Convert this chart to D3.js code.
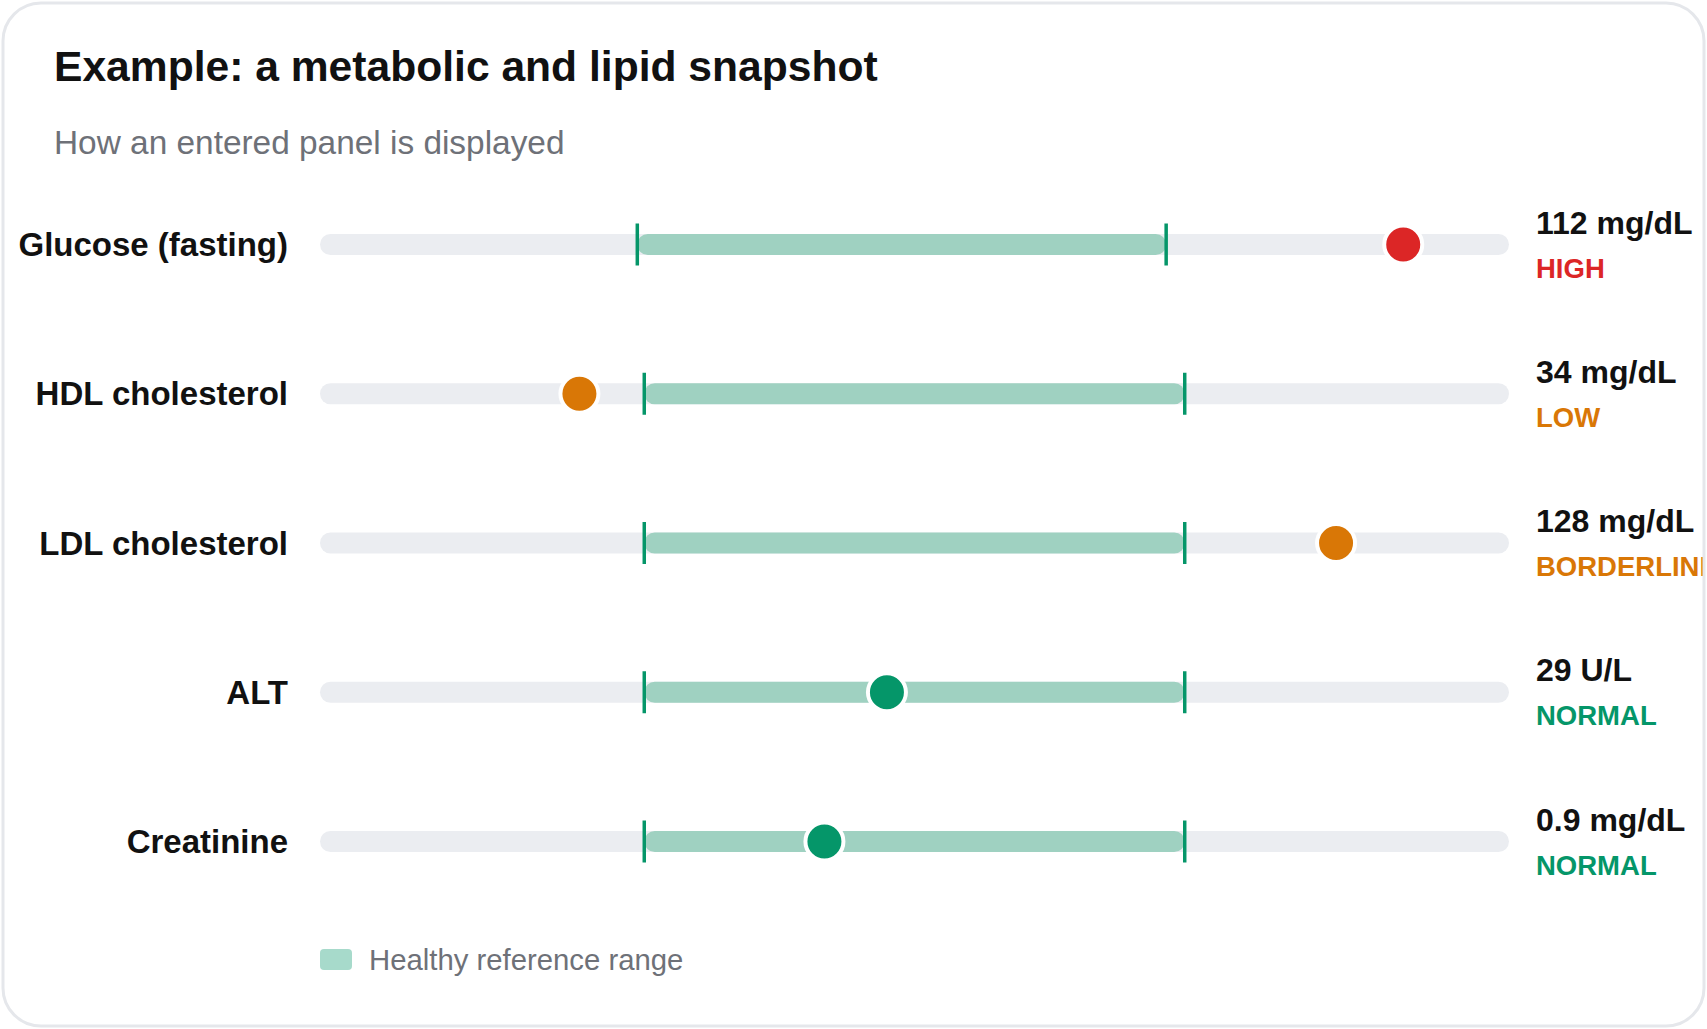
<!DOCTYPE html>
<html>
<head>
<meta charset="utf-8">
<script src="https://cdn.jsdelivr.net/npm/d3@7"></script>
<style>
  html, body { margin: 0; padding: 0; background: #ffffff; }
  svg { display: block; font-family: "Liberation Sans", Arial, Helvetica, sans-serif; }
</style>
</head>
<body>
<svg id="chart" width="1707" height="1029"></svg>
<script>
// ---- Data ----
const tests      = ["Glucose (fasting)", "HDL cholesterol", "LDL cholesterol", "ALT", "Creatinine"];
const values     = [112, 34, 128, 29, 0.9];
const valueText  = ["112 mg/dL", "34 mg/dL", "128 mg/dL", "29 U/L", "0.9 mg/dL"];
const refLow     = [70, 40, 0, 7, 0.7];
const refHigh    = [99, 90, 100, 56, 1.3];
const statuses   = ["HIGH", "LOW", "BORDERLINE", "NORMAL", "NORMAL"];
const statusColor = { HIGH: "#dc2626", LOW: "#d97706", BORDERLINE: "#d97706", NORMAL: "#059669" };

const title    = "Example: a metabolic and lipid snapshot";
const subtitle = "How an entered panel is displayed";
const legendLabel = "Healthy reference range";

// ---- Layout ----
const W = 1707, H = 1029;
const svg = d3.select("#chart");

const trackX0 = 320, trackX1 = 1509, trackH = 21;
const y = d3.scalePoint().domain(tests).range([244.5, 841.5]);

// clip for card interior
svg.append("defs").append("clipPath").attr("id", "cardClip")
  .append("rect").attr("x", 4).attr("y", 4).attr("width", 1699).attr("height", 1021).attr("rx", 37);

svg.append("rect").attr("x", 3).attr("y", 3).attr("width", 1701).attr("height", 1023)
  .attr("rx", 38).attr("fill", "#ffffff");

const g = svg.append("g").attr("clip-path", "url(#cardClip)");

g.append("text").attr("x", 54).attr("y", 81)
  .attr("font-size", 42.6).attr("font-weight", "bold").attr("fill", "#111111").text(title);
g.append("text").attr("x", 54).attr("y", 154)
  .attr("font-size", 33.4).attr("fill", "#6e7178").text(subtitle);

const rows = tests.map((t, i) => {
  const span = refHigh[i] - refLow[i];
  const lo = Math.min(refLow[i] - 0.6 * span, values[i] - 0.2 * span);
  const hi = Math.max(refHigh[i] + 0.6 * span, values[i] + 0.2 * span);
  return { test: t, i, x: d3.scaleLinear().domain([lo, hi]).range([trackX0, trackX1]) };
});

const row = g.selectAll("g.row").data(rows).join("g").attr("class", "row")
  .attr("transform", d => `translate(0,${y(d.test)})`);

// label
row.append("text").attr("x", 288).attr("y", 0).attr("dy", "0.35em")
  .attr("text-anchor", "end").attr("font-size", 33).attr("font-weight", "bold")
  .attr("fill", "#111111").text(d => d.test);

// track
row.append("rect").attr("x", trackX0).attr("y", -trackH / 2)
  .attr("width", trackX1 - trackX0).attr("height", trackH).attr("rx", trackH / 2)
  .attr("fill", "#ebedf1");

// reference range
row.append("rect")
  .attr("x", d => d.x(refLow[d.i])).attr("y", -trackH / 2)
  .attr("width", d => d.x(refHigh[d.i]) - d.x(refLow[d.i])).attr("height", trackH)
  .attr("rx", trackH / 2).attr("fill", "#9fd1c1");

// range ticks
row.selectAll("line.tick").data(d => [refLow[d.i], refHigh[d.i]].map(v => d.x(v)))
  .join("line").attr("class", "tick")
  .attr("x1", v => v).attr("x2", v => v).attr("y1", -21).attr("y2", 21)
  .attr("stroke", "#059669").attr("stroke-width", 3.5);

// value dot
row.append("circle")
  .attr("cx", d => d.x(values[d.i])).attr("cy", 0).attr("r", 19)
  .attr("fill", d => statusColor[statuses[d.i]])
  .attr("stroke", "#ffffff").attr("stroke-width", 4);

// value text
row.append("text").attr("x", 1536).attr("y", -11)
  .attr("font-size", 32).attr("font-weight", "bold").attr("fill", "#111111")
  .text(d => valueText[d.i]);
row.append("text").attr("x", 1536).attr("y", 33)
  .attr("font-size", 27.5).attr("font-weight", "bold")
  .attr("fill", d => statusColor[statuses[d.i]])
  .text(d => statuses[d.i]);

// legend
const lg = g.append("g");
lg.append("rect").attr("x", 320).attr("y", 949).attr("width", 32).attr("height", 21)
  .attr("rx", 4).attr("fill", "#a7dacb");
lg.append("text").attr("x", 369).attr("y", 970)
  .attr("font-size", 29.3).attr("fill", "#6e7178").text(legendLabel);

// card border on top
svg.append("rect").attr("x", 3).attr("y", 3).attr("width", 1701).attr("height", 1023)
  .attr("rx", 38).attr("fill", "none").attr("stroke", "#e5e7eb").attr("stroke-width", 3);
</script>
</body>
</html>
